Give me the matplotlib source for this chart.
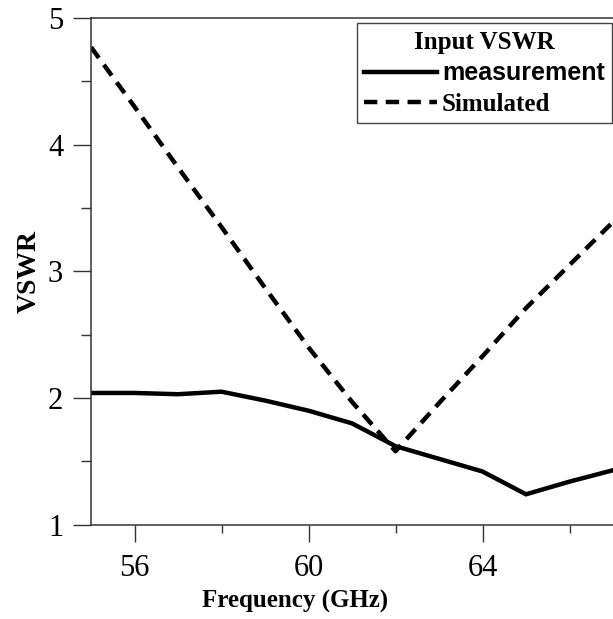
import matplotlib
matplotlib.use("Agg")
import matplotlib.pyplot as plt
from matplotlib.ticker import FixedLocator

# ==========================================
# Data
# ==========================================

freq = [55, 56, 57, 58, 59, 60, 61, 62, 63, 64, 65, 66, 67]
vswr_measured = [2.04, 2.04, 2.03, 2.05, 1.98, 1.90, 1.80, 1.62, 1.52, 1.42, 1.24, 1.34, 1.43]
vswr_simulated = [4.77, 4.30, 3.82, 3.35, 2.87, 2.40, 1.97, 1.58, 1.96, 2.33, 2.71, 3.05, 3.39]

x_major = [56, 60, 64]
x_minor = [58, 62, 66]
y_major = [1, 2, 3, 4, 5]
y_minor = [1.5, 2.5, 3.5, 4.5]

# ==========================================
# Figure
# ==========================================

plt.rcParams["font.family"] = ["Liberation Serif", "DejaVu Serif"]

fig = plt.figure(figsize=(6.13, 6.19), dpi=100)
ax = fig.add_axes([91 / 613, 94.3 / 619, 522 / 613, 506.7 / 619])

ax.plot(freq, vswr_measured, color="black", lw=3.2, solid_joinstyle="miter",
        label="measurement")
ax.plot(freq, vswr_simulated, color="black", lw=3.2, dashes=(3.0, 1.9),
        label="Simulated")

ax.set_xlim(55, 67)
ax.set_ylim(1, 5)

ax.xaxis.set_major_locator(FixedLocator(x_major))
ax.xaxis.set_minor_locator(FixedLocator(x_minor))
ax.yaxis.set_major_locator(FixedLocator(y_major))
ax.yaxis.set_minor_locator(FixedLocator(y_minor))

spine_col = "#333333"
for side in ["left", "bottom", "top"]:
    ax.spines[side].set_color(spine_col)
    ax.spines[side].set_linewidth(1.1)
ax.spines["right"].set_visible(False)

ax.tick_params(axis="x", which="major", direction="out", length=12, width=1.0,
               color=spine_col, labelsize=22, pad=9)
ax.tick_params(axis="x", which="minor", direction="out", length=6, width=1.0,
               color=spine_col)
ax.tick_params(axis="y", which="major", direction="out", length=13, width=1.0,
               color=spine_col, labelsize=22, pad=7)
ax.tick_params(axis="y", which="minor", direction="out", length=7, width=1.0,
               color=spine_col)

ax.set_xlabel("Frequency (GHz)", fontsize=18, fontweight="bold")
ax.xaxis.set_label_coords((295 - 91) / 522, -0.128)
ax.set_ylabel("VSWR", fontsize=20, fontweight="bold")
ax.yaxis.set_label_coords(-0.094, 0.5)

leg = ax.legend(
    loc="upper right",
    bbox_to_anchor=(612 / 613, 1 - 23.3 / 619),
    bbox_transform=fig.transFigure,
    borderaxespad=0,
    title="Input VSWR",
    title_fontproperties={"family": "Liberation Serif", "weight": "bold", "size": 18},
    prop={"family": "Liberation Serif", "weight": "bold", "size": 18},
    handlelength=2.9,
    handletextpad=0.2,
    borderpad=0.3,
    labelspacing=0.3,
    fancybox=False,
    framealpha=1,
    edgecolor="#444444",
)
leg.get_frame().set_linewidth(1.0)
leg.get_texts()[0].set_fontfamily("Liberation Sans")

fig.savefig("out.png", dpi=100)
plt.close(fig)
